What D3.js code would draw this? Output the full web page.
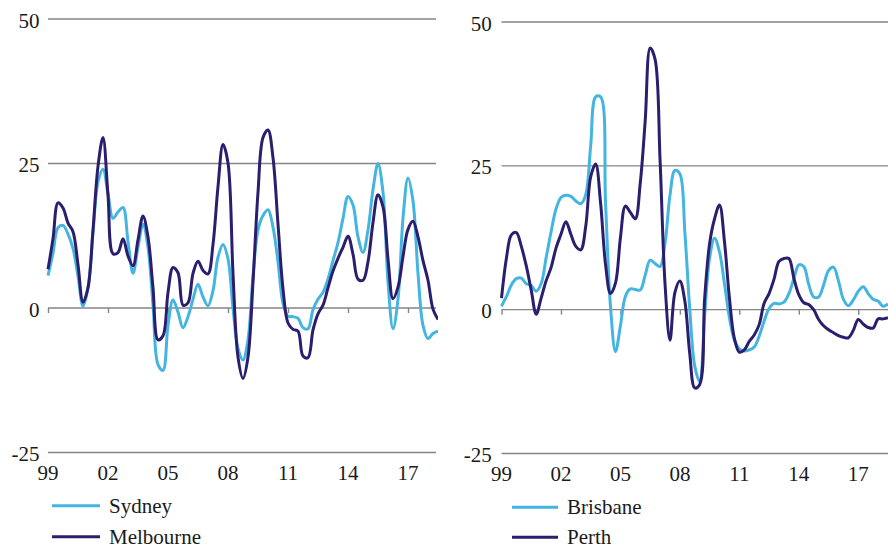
<!DOCTYPE html>
<html>
<head>
<meta charset="utf-8">
<script src="https://cdn.jsdelivr.net/npm/d3@7"></script>
<style>
  html, body { margin: 0; padding: 0; background: #ffffff; }
  svg { display: block; }
  text { font-family: "Liberation Serif", "Times New Roman", serif; fill: #1a1a1a; }
</style>
</head>
<body>
<svg id="chart" width="888" height="548"></svg>
<script>
// Quarterly observations, 1999 Q1 to mid-2018 (year fractions)
const startYear = 1999;
const quarters = d3.range(0, 79).map(i => startYear + i / 4);

const tickYears = [1999, 2002, 2005, 2008, 2011, 2014, 2017];
const tickLabels = ["99", "02", "05", "08", "11", "14", "17"];
const yTicks = [-25, 0, 25, 50];

const sydney = [
  5.6, 9.5, 13.9, 14.3, 12.8, 10.3, 5.5, 0.3,
  3.5, 13, 21.8, 24, 19.8, 15.5, 16.6, 17.4,
  11.5, 6, 10.5, 14.5, 10.5, 0.5, -9.8, -10.8,
  -3, 1.4, -0.7, -3.4, -1.5, 1.5, 4.1, 1.9,
  0.4, 3, 8.8, 11, 8.5, 0, -7, -9,
  -5.5, 5.5, 13.5, 16, 17, 14, 8, 0.8,
  -1.4, -1.5, -1.8, -3.4, -3.6, -0.3, 1.5, 2.7,
  5, 8.2, 11.3, 15.5, 19.3, 17.8, 12.3, 9.6,
  13.5, 20.5, 25, 20, 4.5, -3.6, 1.5, 15.5,
  22.5, 18.5, 6, -3, -5.3, -4.4, -4.0
];
const melbourne = [
  6.7, 12, 18.2, 17.3, 14.7, 13.2, 7.5, 1,
  3.5, 13.5, 24.5, 29.5, 19.5, 9.4, 9.6, 12,
  9, 7.3, 11.8, 15.9, 12.3, 3.5, -5.5, -4.8,
  2.7, 7, 6.1, 0.5, 0.9, 6, 8.1, 6.5,
  5.9, 11, 21, 28.3, 25.1, 6, -8.5, -12.2,
  -8.5, 4.5, 20, 29.5, 30.8, 26, 14.5, 3.3,
  -2.6, -3.7, -4, -8.3, -8.6, -3.8, -1, 0.5,
  3.5, 6.4, 8.6, 10.5, 12.4, 9.3, 5, 4.8,
  8, 14.8, 19.6, 17.5, 8.5, 1.6, 3.6, 8.9,
  13.6, 15, 12.3, 8.2, 4.8, -0.2, -2
];
const brisbane = [
  0.6, 2.3, 4.3, 5.4, 5.5, 4.5, 4.2, 3.2,
  4.5, 9, 13.5, 17.5, 19.5, 19.9, 19.7, 18.9,
  18.4, 20, 28.5, 37, 37, 18.5, 0.5, -7.3,
  -2.8, 2.3, 3.6, 3.5, 3.4, 6, 8.6, 8,
  7.5, 11.5, 19.9, 24.2, 23.6, 13.5, 0, -9.8,
  -12.5, -1, 9, 12.4, 10, 4.5, -1.4, -5.3,
  -6.8, -7.2, -7, -6.5, -4.6, -2, 0.2, 1.1,
  1, 1.3, 2.8, 5.4, 7.8, 7.5, 4.4, 2.2,
  2.2, 4.3, 6.8, 7.4, 5, 1.8, 0.7, 1.7,
  3.2, 4, 2.8, 1.8, 1.5, 0.6, 1
];
const perth = [
  2, 9, 13, 13.4, 11, 7.6, 3.4, -0.8,
  2, 5, 7.3, 10.7, 13.1, 15.3, 13.1, 11,
  10.4, 14.5, 23.1, 25.3, 18.5, 7.8, 2.8, 4.6,
  12.5, 18, 16.9, 15.8, 22, 32.8, 45.5, 43.5,
  26, 4.5, -5.3, 3, 5, 1.5, -7.7, -13.6,
  -13, 2, 11.5, 15.8, 18.2, 11.8, 2, -5,
  -7.4, -7, -5.5, -4.4, -2.6, 1.1, 2.8, 5.3,
  8.4, 8.9, 8.9, 5.5, 2.6, 1.2, 0.9, 0,
  -1.7, -2.8, -3.5, -4, -4.5, -4.8, -4.9, -3.6,
  -1.7, -2.5, -3.1, -3.2, -1.6, -1.6, -1.4
];

const lightBlue = "#43b5e0";
const navy = "#2c1e6e";
const gridColor = "#858585";

const panels = [
  { id: "L", x0: 48, x1: 436, xEnd: 2018.4, yTop: 19, yBot: 452.5, labelRight: 39.5,
    series: [{ name: "Sydney", values: sydney, color: lightBlue },
             { name: "Melbourne", values: melbourne, color: navy }],
    legendX0: 52, legendX1: 100, legendText: 109, legendY: [505.7, 536.7] },
  { id: "R", x0: 501.5, x1: 888, xEnd: 2018.5, yTop: 22, yBot: 453.5, labelRight: 491.7,
    series: [{ name: "Brisbane", values: brisbane, color: lightBlue },
             { name: "Perth", values: perth, color: navy }],
    legendX0: 512, legendX1: 558, legendText: 567, legendY: [507.3, 537.3] }
];

const svg = d3.select("#chart");
const defs = svg.append("defs");

panels.forEach(p => {
  const x = d3.scaleLinear().domain([startYear, p.xEnd]).range([p.x0, p.x1]);
  const y = d3.scaleLinear().domain([-25, 50]).range([p.yBot, p.yTop]);
  const g = svg.append("g");

  // horizontal gridlines
  g.selectAll("line.grid").data(yTicks).enter().append("line")
    .attr("x1", p.x0).attr("x2", p.x1)
    .attr("y1", d => y(d)).attr("y2", d => y(d))
    .attr("stroke", gridColor).attr("stroke-width", 1.4);

  // y labels
  g.selectAll("text.ylab").data(yTicks).enter().append("text")
    .attr("x", p.labelRight).attr("y", d => y(d) + 8.5)
    .attr("text-anchor", "end").attr("font-size", 21)
    .text(d => d);

  // year ticks on the zero line
  const xAxis = d3.axisBottom(x).tickValues(tickYears).tickSize(5).tickFormat("");
  const ax = g.append("g").attr("transform", `translate(0,${y(0)})`).call(xAxis);
  ax.select(".domain").remove();
  ax.selectAll(".tick line").attr("stroke", gridColor).attr("stroke-width", 1.4);

  // year labels under bottom line
  g.selectAll("text.xlab").data(tickYears).enter().append("text")
    .attr("x", d => x(d)).attr("y", y(-25) + 27)
    .attr("text-anchor", "middle").attr("font-size", 21)
    .text((d, i) => tickLabels[i]);

  // clip
  defs.append("clipPath").attr("id", "clip" + p.id).append("rect")
    .attr("x", p.x0 - 2).attr("y", 0).attr("width", p.x1 - p.x0 + 4).attr("height", 548);

  const line = d3.line()
    .x((d, i) => x(quarters[i]))
    .y(d => y(d))
    .curve(d3.curveCatmullRom.alpha(0.5));

  p.series.forEach(s => {
    g.append("path")
      .attr("clip-path", `url(#clip${p.id})`)
      .attr("d", line(s.values))
      .attr("fill", "none")
      .attr("stroke", s.color)
      .attr("stroke-width", 3)
      .attr("stroke-linejoin", "round");
  });

  // legend
  p.series.forEach((s, i) => {
    g.append("line")
      .attr("x1", p.legendX0).attr("x2", p.legendX1)
      .attr("y1", p.legendY[i]).attr("y2", p.legendY[i])
      .attr("stroke", s.color).attr("stroke-width", 3);
    g.append("text")
      .attr("x", p.legendText).attr("y", p.legendY[i] + 7)
      .attr("font-size", 21)
      .text(s.name);
  });
});
</script>
</body>
</html>
